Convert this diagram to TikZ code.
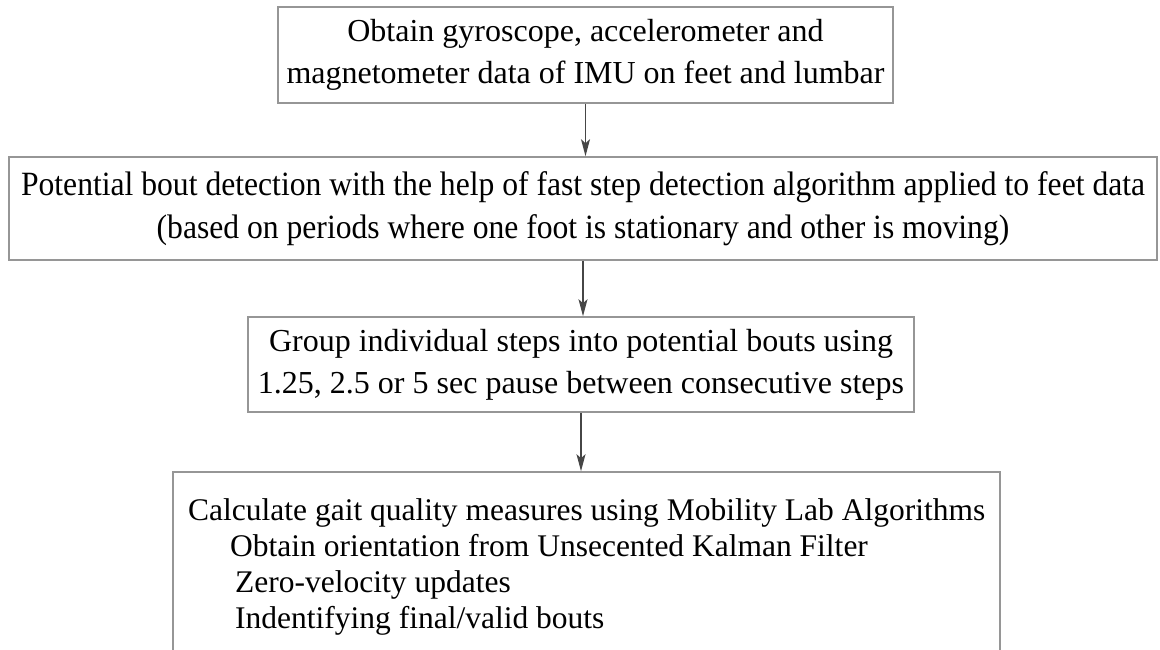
\documentclass[tikz,border=0pt]{standalone}
\usepackage{fontspec}
\setmainfont{Liberation Serif}
\usetikzlibrary{arrows.meta}
\definecolor{boxgray}{RGB}{150,150,150}
\definecolor{arrgray}{RGB}{70,70,70}
\begin{document}
\begin{tikzpicture}[x=1pt,y=-1pt,
  box/.style={draw=boxgray, line width=1.6pt, fill=white, inner sep=0pt, align=center,
    font=\fontsize{32}{42}\selectfont},
  arr/.style={draw=arrgray, line width=1.4pt, -{Stealth[length=17pt,width=9pt,inset=4pt]}},
  txt/.style={inner sep=0pt, anchor=north west, align=left, font=\fontsize{31.5}{36}\selectfont}]
\useasboundingbox (0,0) rectangle (1160,650);
\clip (0,0) rectangle (1160,650);
\fill[white] (0,0) rectangle (1160,650);
\node[box, minimum width=615pt, minimum height=96pt] (b1) at (585.5,55)
  {Obtain gyroscope, accelerometer and\\ magnetometer data of IMU on feet and lumbar};
\node[box, minimum width=1148pt, minimum height=103pt, font=\fontsize{34}{43}\selectfont] (b2) at (583,208.5)
  {\scalebox{0.93}[1]{Potential bout detection with the help of fast step detection algorithm applied to feet data}\\
   \scalebox{0.93}[1]{(based on periods where one foot is stationary and other is moving)}};
\node[box, minimum width=666pt, minimum height=95pt] (b3) at (581,364.5)
  {Group individual steps into potential bouts using\\ 1.25, 2.5 or 5 sec pause between consecutive steps};
\node[box, minimum width=827pt, minimum height=228pt] (b4) at (586.5,586) {};
\node[txt] (t4) at (188,498)
  {Calculate gait quality measures using Mobility Lab Algorithms\\
   \hspace*{42pt}Obtain orientation from Unsecented Kalman Filter\\
   \hspace*{47pt}Zero-velocity updates\\
   \hspace*{47pt}Indentifying final/valid bouts};
\draw[arr] (b1.south) -- (b1.south |- b2.north);
\draw[arr] (b2.south) -- (b2.south |- b3.north);
\draw[arr] (b3.south) -- (b3.south |- b4.north);
\end{tikzpicture}
\end{document}
